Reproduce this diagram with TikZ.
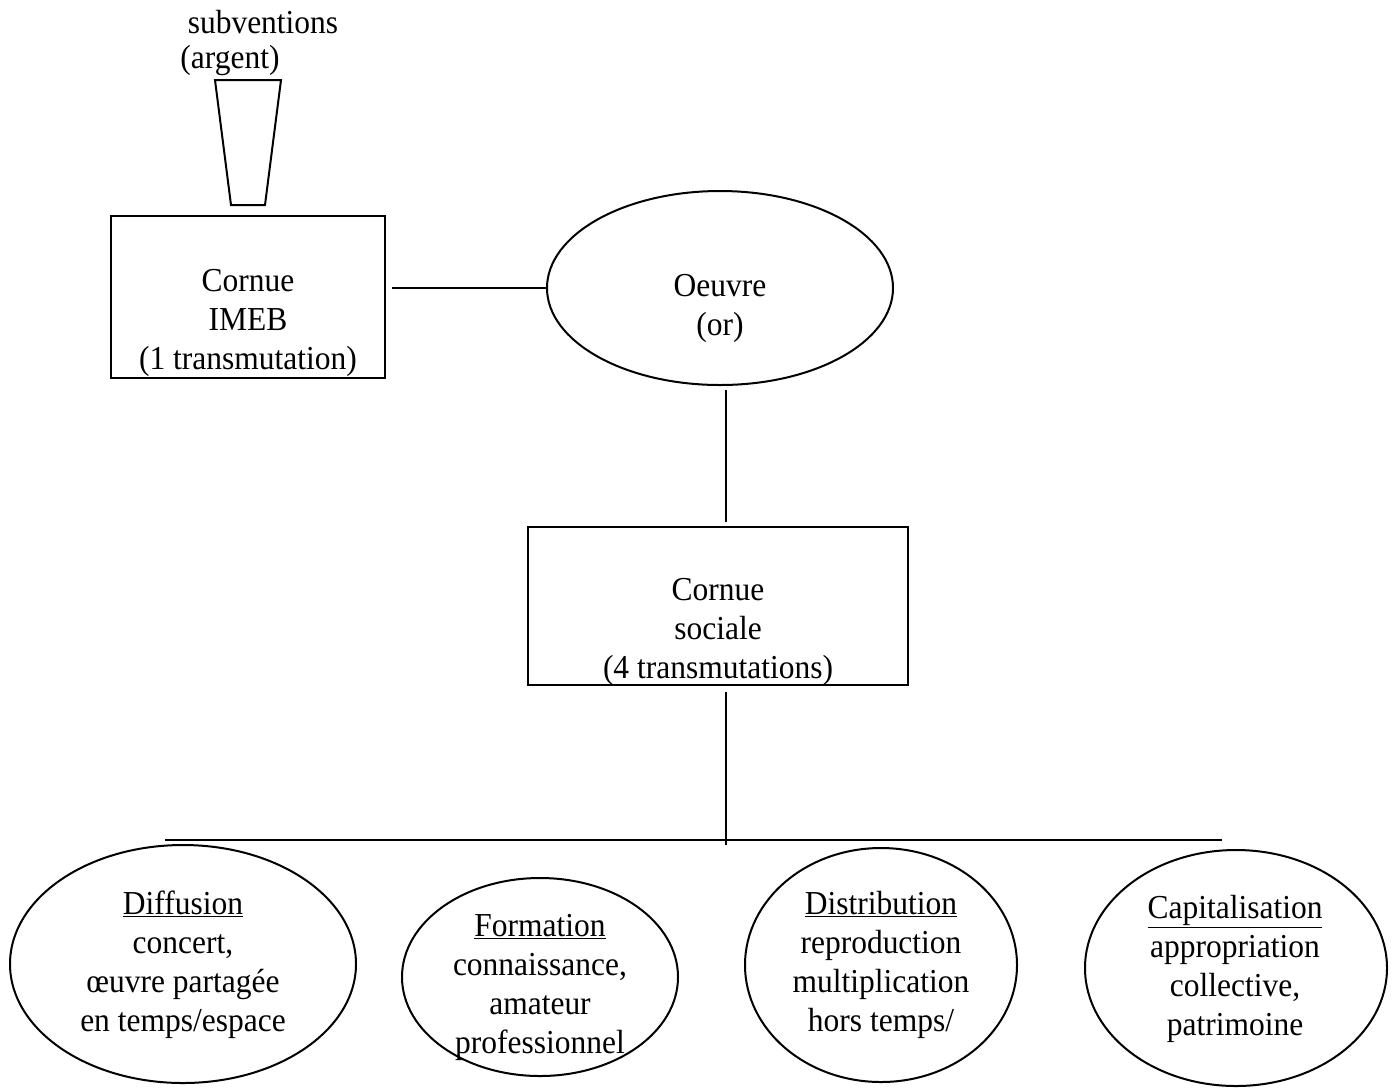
\documentclass[tikz,border=0pt]{standalone}
\usepackage{fontspec}
\setmainfont{Liberation Serif}[FakeStretch=0.94]
\usetikzlibrary{shapes.geometric}

\begin{document}
\begin{tikzpicture}[x=1pt, y=-1pt, line width=2pt,
	box/.style={draw, rectangle, inner sep=0pt},
	oval/.style={draw, ellipse, inner sep=0pt},
	lbl/.style={align=center, inner sep=0pt, font=\fontsize{33.5}{39}\selectfont}]
	\useasboundingbox (0,0) rectangle (1396,1088);

	% funnel on top
	\node [lbl] (subv) at (263,22) {subventions};
	\node [lbl] (argent) at (230,60) {(argent)};
	\draw (215,80) -- (281,80) -- (265,205) -- (231,205) -- cycle;

	% the two retorts and the work
	\node [box, minimum width=274, minimum height=162] (imeb) at (248,297) {};
	\node [lbl] (imebtxt) at (248,323) {Cornue\\IMEB\\(1 transmutation)};

	\node [oval, minimum width=346, minimum height=194] (oeuvre) at (720,288) {};
	\node [lbl] (oeuvretxt) at (720,308) {Oeuvre\\(or)};

	\node [box, minimum width=380, minimum height=158] (soc) at (718,606) {};
	\node [lbl] (soctxt) at (718,632) {Cornue\\sociale\\(4 transmutations)};

	% the four transmutations
	\node [oval, minimum width=346, minimum height=238] (diff) at (183,964) {};
	\node [lbl] (difftxt) at (183,965) {\underline{Diffusion}\\concert,\\œuvre partagée\\en temps/espace};

	\node [oval, minimum width=276, minimum height=198] (form) at (540,977) {};
	\node [lbl] (formtxt) at (540,987) {\underline{Formation}\\connaissance,\\amateur\\professionnel};

	\node [oval, minimum width=272, minimum height=234] (distr) at (881,965) {};
	\node [lbl] (distrtxt) at (881,965) {\underline{Distribution}\\reproduction\\multiplication\\hors temps/};

	\node [oval, minimum width=302, minimum height=236] (capit) at (1236,968) {};
	\node [lbl] (capittxt) at (1235,969) {\underline{Capitalisation}\\appropriation\\collective,\\patrimoine};

	\coordinate (barL) at (165,840);
	\coordinate (barR) at (1222,840);
	\coordinate (tee) at (726,845);

	\draw (oeuvre.west) -- ([xshift=6pt]imeb.east |- oeuvre.west);
	\draw ([xshift=6pt,yshift=-4pt]oeuvre.south) -- ([xshift=8pt,yshift=4pt]soc.north);
	\draw ([xshift=8pt,yshift=-6pt]soc.south) -- (tee);
	\draw (barL) -- (barR);
\end{tikzpicture}
\end{document}
